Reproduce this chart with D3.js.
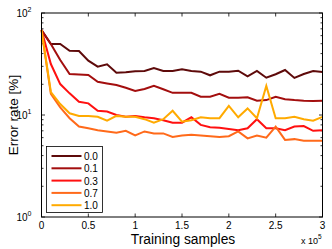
<!DOCTYPE html>
<html>
<head>
<meta charset="utf-8">
<script src="https://cdn.jsdelivr.net/npm/d3@7"></script>
<style>
  body { margin: 0; background: #fff; }
  text { font-family: "Liberation Sans", Arial, sans-serif; fill: #000; }
</style>
</head>
<body>
<div class="main"></div>
<script>
// training samples (x 10^5)
const samples = d3.range(31).map(i => i / 10);

const labels = ["0.0", "0.1", "0.3", "0.7", "1.0"];
const colors = ["#5e0a0a", "#a30e0e", "#ff1010", "#ff6a1a", "#ffaa00"];

const err00 = [68, 49.7, 49.7, 42.7, 42.4, 34.1, 29.8, 31.4, 26.0, 26.2, 26.8, 27.0, 28.9, 27.0, 27.0, 28.1,
    27.0, 26.6, 24.5, 26.6, 26.6, 27.2, 23.9, 27.0, 23.2, 25.1, 27.6, 23.1, 25.2, 27.0, 26.4];
const err01 = [68, 49.7, 34.6, 25.2, 25.0, 24.7, 21.2, 20.4, 19.7, 18.5, 17.2, 18.0, 19.3, 17.9, 16.5, 16.5,
    16.5, 15.1, 15.1, 16.1, 14.8, 14.8, 14.9, 13.8, 14.0, 15.1, 14.3, 14.0, 13.8, 13.7, 13.8];
const err03 = [68, 31.6, 20.1, 16.3, 13.5, 13.0, 11.0, 10.8, 10.0, 9.6, 9.8, 9.5, 9.3, 8.9, 8.4, 8.4,
    9.5, 8.0, 7.6, 7.5, 7.3, 7.1, 7.4, 9.1, 7.4, 7.4, 7.1, 7.7, 7.8, 7.0, 7.1];
const err07 = [68, 16.1, 11.9, 9.3, 7.7, 7.4, 7.1, 6.9, 6.7, 7.0, 6.3, 6.9, 6.6, 6.6, 6.1, 6.3,
    6.4, 6.3, 6.2, 6.1, 6.2, 6.9, 5.9, 6.3, 6.0, 7.7, 5.7, 5.8, 5.6, 5.6, 5.6];
const err10 = [68, 16.8, 12.8, 10.4, 9.8, 9.8, 9.6, 8.8, 9.8, 9.6, 9.6, 9.1, 8.4, 9.1, 11.0, 8.6,
    8.9, 9.5, 9.3, 9.3, 12.3, 9.5, 11.6, 9.3, 19.3, 9.3, 9.3, 9.6, 9.1, 8.8, 9.6];

const series = [err00, err01, err03, err07, err10];

const xTicks = [0, 0.5, 1, 1.5, 2, 2.5, 3];
const xTickLabels = ["0", "0.5", "1", "1.5", "2", "2.5", "3"];
const yTicks = [1, 10, 100];
const yTickExp = ["0", "1", "2"];

const width = 332, height = 249;
const margin = { left: 41.5, right: 9.5, top: 13, bottom: 32 };

const svg = d3.select(".main").append("svg")
    .attr("width", width)
    .attr("height", height);

const x = d3.scaleLinear()
    .domain([0, 3])
    .range([margin.left, width - margin.right]);

const y = d3.scaleLog()
    .domain([1, 100])
    .range([height - margin.bottom, margin.top]);

const x0 = x.range()[0], x1 = x.range()[1];
const y0 = y.range()[0], y1 = y.range()[1];

// inward ticks on all four sides
const tickLen = 3.5;
const minorTicks = [];
[1, 10].forEach(d => { for (let k = 2; k <= 9; k++) minorTicks.push(d * k); });

const ticks = svg.append("g").attr("stroke", "#000").attr("stroke-width", 0.8);
xTicks.forEach(t => {
    ticks.append("line").attr("x1", x(t)).attr("x2", x(t)).attr("y1", y0).attr("y2", y0 - tickLen);
    ticks.append("line").attr("x1", x(t)).attr("x2", x(t)).attr("y1", y1).attr("y2", y1 + tickLen);
});
yTicks.forEach(t => {
    ticks.append("line").attr("x1", x0).attr("x2", x0 + tickLen).attr("y1", y(t)).attr("y2", y(t));
    ticks.append("line").attr("x1", x1).attr("x2", x1 - tickLen).attr("y1", y(t)).attr("y2", y(t));
});
minorTicks.forEach(t => {
    ticks.append("line").attr("x1", x0).attr("x2", x0 + 2).attr("y1", y(t)).attr("y2", y(t));
    ticks.append("line").attr("x1", x1).attr("x2", x1 - 2).attr("y1", y(t)).attr("y2", y(t));
});

// lines
const line = d3.line()
    .x((d, i) => x(samples[i]))
    .y(d => y(d));

svg.append("g")
    .selectAll("path")
    .data(series)
    .enter()
    .append("path")
    .attr("d", line)
    .attr("fill", "none")
    .attr("stroke", (d, i) => colors[i])
    .attr("stroke-width", 2)
    .attr("stroke-linejoin", "miter");

// box
svg.append("rect")
    .attr("x", x0).attr("y", y1)
    .attr("width", x1 - x0).attr("height", y0 - y1)
    .attr("fill", "none")
    .attr("stroke", "#000")
    .attr("stroke-width", 1);

// x tick labels
svg.append("g")
    .selectAll("text")
    .data(xTicks)
    .enter()
    .append("text")
    .attr("x", d => x(d))
    .attr("y", y0 + 12)
    .attr("text-anchor", "middle")
    .attr("font-size", 10)
    .text((d, i) => xTickLabels[i]);

// y tick labels 10^n
const yl = svg.append("g")
    .selectAll("text")
    .data(yTicks)
    .enter()
    .append("text")
    .attr("x", x0 - 10)
    .attr("y", d => y(d) + 4)
    .attr("text-anchor", "end")
    .attr("font-size", 10);
yl.append("tspan").text("10");
yl.append("tspan")
    .attr("font-size", 7)
    .attr("dy", -5)
    .text((d, i) => yTickExp[i]);

// x 10^5
const mult = svg.append("text")
    .attr("x", 301)
    .attr("y", 244)
    .attr("font-size", 9);
mult.append("tspan").text("x 10");
mult.append("tspan").attr("font-size", 6.5).attr("dy", -5).text("5");

// axis titles
svg.append("text")
    .attr("x", (x0 + x1) / 2 + 1)
    .attr("y", 244)
    .attr("text-anchor", "middle")
    .attr("font-size", 13.8)
    .text("Training samples");

svg.append("text")
    .attr("transform", "translate(18," + ((y0 + y1) / 2) + ") rotate(-90)")
    .attr("text-anchor", "middle")
    .attr("font-size", 13.5)
    .text("Error rate [%]");

// legend
const lg = svg.append("g").attr("transform", "translate(46.5,146.5)");
lg.append("rect")
    .attr("width", 56)
    .attr("height", 66)
    .attr("fill", "#fff")
    .attr("stroke", "#000")
    .attr("stroke-width", 0.8);

const item = lg.selectAll(".item")
    .data(labels)
    .enter()
    .append("g")
    .attr("transform", (d, i) => "translate(0," + (9.5 + i * 12.3) + ")");

item.append("line")
    .attr("x1", 5).attr("x2", 35)
    .attr("stroke", (d, i) => colors[i])
    .attr("stroke-width", 2);

item.append("text")
    .attr("x", 37.5)
    .attr("y", 4)
    .attr("font-size", 10)
    .text(d => d);
</script>
</body>
</html>
